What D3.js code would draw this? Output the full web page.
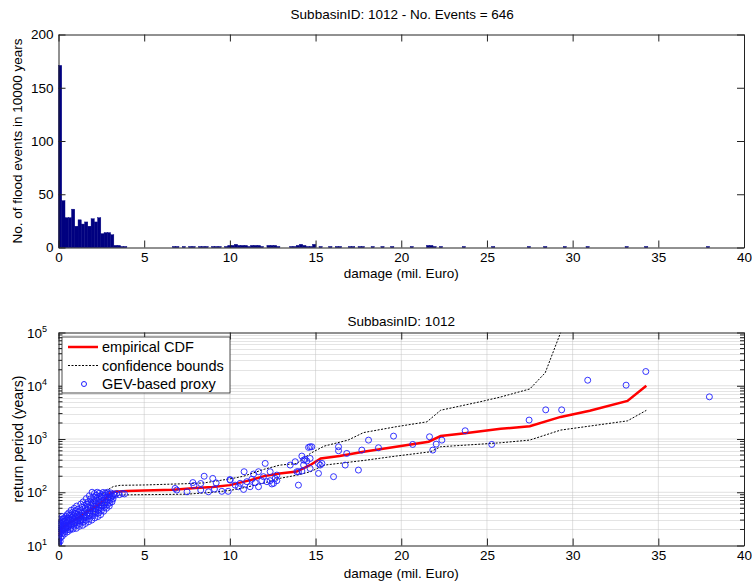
<!DOCTYPE html>
<html>
<head>
<meta charset="utf-8">
<script src="https://d3js.org/d3.v7.min.js"></script>
<style>
body { margin: 0; background: #fff; }
text { font-family: "Liberation Sans", Arial, sans-serif; }
</style>
</head>
<body>
<svg width="752" height="582"></svg>
<script>

// ---- histogram (top panel) ----
var binWidth = 0.19;
var histLeft = [0, 0.19, 0.38, 0.57, 0.76, 0.95, 1.14, 1.33, 1.52, 1.71, 1.9, 2.09, 2.28, 2.47, 2.66, 2.85, 3.04, 3.23, 3.42, 3.61, 3.8,
  6.65, 6.84, 7.22, 7.6, 7.79, 8.17, 8.36, 8.55, 8.93, 9.12, 9.31, 9.69, 9.88, 10.07, 10.26, 10.45, 10.64, 10.83,
  11.02, 11.21, 11.4, 11.59, 11.78, 12.16, 12.35, 12.54, 12.73, 13.49, 13.68, 13.87, 14.06, 14.25, 14.44, 14.63, 14.82,
  15.2, 15.77, 16.15, 16.34, 16.91, 17.1, 17.48, 17.67, 18.24, 18.81, 19.38, 20.52, 21.47, 21.66, 21.85, 22.23,
  23.56, 25.27, 27.36, 28.31, 29.45, 30.78, 33.06, 34.2, 37.81];
var histCount = [171, 44, 28, 28, 36, 20, 26, 22, 24, 20, 27, 24, 28, 13, 14, 14, 12, 2, 2, 1, 1,
  1, 1, 1, 1, 1, 1, 1, 1, 1, 1, 1, 1, 2, 2, 3, 2, 2, 2,
  1, 2, 2, 2, 1, 2, 2, 2, 1, 1, 1, 2, 3, 2, 1, 1, 3,
  1, 1, 1, 1, 1, 1, 1, 1, 1, 1, 1, 1, 2, 2, 1, 1,
  1, 1, 1, 1, 1, 1, 1, 1, 1];

// ---- return period plot (bottom panel) ----
var cdfDamage = [0, 0.2, 0.5, 1.0, 1.5, 2.0, 2.5, 2.8, 3.0, 3.3, 4.0, 5, 6.7, 8, 9, 10, 11.2, 12.0, 12.9, 13.9, 14.7, 15.3, 16.4, 17.8, 19.7, 21.6, 22.3, 23.6, 25.8, 27.5, 29.3, 31.0, 33.2, 34.3];
var cdfReturn = [15.5, 21, 25, 31, 40, 50, 64, 80, 95, 102, 105, 108, 112, 120, 126, 136, 169, 201, 225, 245, 325, 430, 480, 575, 715, 890, 1135, 1270, 1550, 1740, 2600, 3400, 5200, 10000];

var ubDamage = [0, 0.5, 1, 1.5, 2, 2.5, 2.8, 3.2, 3.6, 5, 7.5, 8.5, 10, 10.8, 12, 12.9, 13.9, 14.7, 15.5, 16.9, 17.8, 19.7, 21.5, 22.3, 24.6, 25.8, 27.5, 28.4, 29.3];
var ubReturn = [18, 30, 38, 48, 65, 88, 108, 128, 135, 137, 145, 150, 178, 200, 270, 323, 346, 537, 735, 955, 1320, 1700, 2100, 3470, 5000, 6150, 8700, 17500, 100000];

var lbDamage = [0, 0.5, 1, 1.5, 2, 2.5, 3.0, 3.6, 5, 7.5, 9, 10, 11, 12, 12.9, 13.9, 14.7, 15.5, 17.8, 19.7, 21.7, 22.3, 24.6, 25.8, 27.5, 29.3, 33.2, 34.3];
var lbReturn = [13, 20, 25, 32, 40, 52, 75, 89, 90, 92, 100, 108, 125, 150, 182, 209, 243, 323, 395, 478, 575, 716, 800, 850, 955, 1470, 2190, 3450];

// GEV-based proxy, [damage, return period]
var gevPoints = [
  [0,10],[0,10.5],[0,11],[0,11.8],[0,12.5],[0,13.5],[0.02,14.5],[0.01,16],[0.03,17.5],[0.02,19],[0.04,21],[0.05,23],[0.03,25],[0.06,27],
  [0.1,12],[0.12,14],[0.1,16.5],[0.14,18],[0.12,20],[0.15,22],[0.13,24],[0.16,26],[0.18,29],[0.08,31],
  [0.22,15],[0.25,17],[0.2,19.5],[0.27,21],[0.24,23],[0.3,25],[0.28,28],[0.26,31],[0.32,33],[0.22,35],
  [0.35,16.5],[0.38,18.5],[0.4,20],[0.42,22.5],[0.36,24],[0.45,26],[0.4,29],[0.48,31],[0.44,35],[0.5,38],
  [0.52,18],[0.55,20],[0.5,21.5],[0.58,23],[0.6,25],[0.55,27.5],[0.62,30],[0.57,33],[0.65,37],[0.6,41],
  [0.68,19.5],[0.72,21],[0.7,24],[0.75,26],[0.78,28],[0.72,31],[0.8,34],[0.76,38],[0.82,42],[0.74,46],
  [0.86,20.5],[0.9,23],[0.88,25],[0.95,27],[0.92,30],[0.98,33],[0.9,36],[0.96,40],[1.0,45],[0.92,50],
  [1.04,21],[1.08,24],[1.05,27],[1.12,29],[1.1,32],[1.15,35],[1.08,38],[1.18,42],[1.14,48],[1.06,55],
  [1.22,23],[1.25,26],[1.28,28.5],[1.3,31],[1.24,34],[1.32,37],[1.35,41],[1.28,45],[1.38,52],[1.3,60],
  [1.42,24],[1.45,28],[1.4,30],[1.48,33],[1.5,36],[1.46,40],[1.52,44],[1.55,50],[1.5,57],[1.44,66],
  [1.58,26],[1.62,30],[1.6,34],[1.65,37],[1.68,41],[1.63,46],[1.7,52],[1.66,60],[1.72,66],[1.62,76],
  [1.76,28],[1.8,32],[1.78,36],[1.84,40],[1.82,45],[1.88,50],[1.85,57],[1.9,64],[1.86,75],[1.8,86],
  [1.94,30],[1.98,36],[2.0,40],[2.04,44],[2.02,49],[2.06,55],[2.0,62],[2.08,70],[2.04,82],[2.1,95],[1.96,100],
  [2.12,33],[2.16,39],[2.14,43],[2.2,48],[2.18,54],[2.22,60],[2.15,68],[2.24,78],[2.2,88],[2.26,100],
  [2.3,35],[2.34,41],[2.32,46],[2.38,52],[2.35,58],[2.4,65],[2.36,74],[2.42,85],[2.38,96],
  [2.46,38],[2.5,45],[2.48,50],[2.55,56],[2.52,63],[2.58,70],[2.5,80],[2.56,90],[2.6,99],
  [2.64,44],[2.68,52],[2.66,58],[2.72,64],[2.7,72],[2.75,80],[2.68,88],[2.74,97],
  [2.8,50],[2.85,58],[2.82,65],[2.9,72],[2.88,82],[2.92,92],[2.86,100],
  [2.96,55],[3.0,63],[3.02,72],[3.06,80],[3.0,90],[3.05,97],
  [3.12,66],[3.18,75],[3.15,85],[3.22,93],[3.3,88],[3.4,95],[3.55,90],[3.72,95],[3.85,93],
  [6.8,118],[6.9,110],[7.5,102],[7.84,152],[7.9,134],[8.3,146],[8.5,200],[8.3,110],[8.75,102],
  [9.0,182],[9.2,150],[9.1,115],[9.53,104],[9.9,104],[10.0,173],
  [10.02,169],[10.31,136],[10.5,127],[10.6,147],[10.8,113],[10.83,243],[10.99,158],[11.18,127],[11.28,175],
  [11.38,220],[11.48,151],[11.67,127],[11.67,243],[11.86,165],[11.96,196],[12.06,348],[12.16,158],
  [12.35,165],[12.35,243],[12.45,143],[12.55,147],[12.64,182],[12.74,165],[12.74,210],
  [13.52,324],[13.81,374],[13.91,243],[14.0,136],[14.0,243],[14.2,250],[14.2,478],[14.3,402],[14.3,324],
  [14.39,414],[14.49,385],[14.59,695],[14.68,714],[14.68,432],[14.68,280],[14.78,714],
  [15.17,348],[15.17,226],[15.27,324],[15.37,348],[16.05,196],[16.34,714],[16.34,601],[16.73,324],[16.82,536],
  [17.5,261],[17.7,619],[18.09,953],[18.67,685],[19.55,1133],[20.67,791],[21.65,1101],[21.84,619],
  [22.04,801],[22.37,953],[23.73,1428],[25.28,791],[27.46,2265],[28.43,3530],[29.36,3530],
  [30.88,12700],[33.12,10260],[34.27,18500],[37.98,6190]
];

var xTicks = [0, 5, 10, 15, 20, 25, 30, 35, 40];
var histYTicks = [0, 50, 100, 150, 200];
var logYTicks = [10, 100, 1000, 10000, 100000];

var svg = d3.select("svg");
var left = 58.5, right = 744;
var top1 = 34.5, bot1 = 247.5;
var top2 = 332.5, bot2 = 545.5;
var fontSize = 13.5;

var xScale = d3.scaleLinear().domain([0, 40]).range([left, right]);
var yHist = d3.scaleLinear().domain([0, 200]).range([bot1, top1]);
var yLog = d3.scaleLog().domain([10, 100000]).range([bot2, top2]);

// ================= top panel =================
svg.append("g").selectAll("rect")
  .data(histLeft)
  .enter().append("rect")
  .attr("x", function (d) { return xScale(d); })
  .attr("width", function (d) { return xScale(d + binWidth) - xScale(d); })
  .attr("y", function (d, i) { return yHist(histCount[i]); })
  .attr("height", function (d, i) { return yHist(0) - yHist(histCount[i]); })
  .style("fill", "#000080")
  .style("stroke", "#000080")
  .style("stroke-width", 0.4);

function drawFrame(top, bot, yScale, yTickVals, logLabels) {
  var gx = svg.append("g").attr("transform", "translate(0," + bot + ")")
    .call(d3.axisBottom(xScale).tickValues(xTicks).tickSizeInner(-7).tickSizeOuter(0).tickPadding(5));
  var gxt = svg.append("g").attr("transform", "translate(0," + top + ")")
    .call(d3.axisTop(xScale).tickValues(xTicks).tickSizeInner(-7).tickSizeOuter(0).tickFormat(""));
  var gy = svg.append("g").attr("transform", "translate(" + left + ",0)")
    .call(d3.axisLeft(yScale).tickValues(yTickVals).tickSizeInner(-7).tickSizeOuter(0).tickPadding(5).tickFormat(logLabels ? "" : d3.format("d")));
  var gyr = svg.append("g").attr("transform", "translate(" + right + ",0)")
    .call(d3.axisRight(yScale).tickValues(yTickVals).tickSizeInner(-7).tickSizeOuter(0).tickFormat(""));
  [gx, gxt, gy, gyr].forEach(function (g) {
    g.selectAll("path").style("stroke", "#222").style("stroke-width", 1);
    g.selectAll("line").style("stroke", "#222");
    g.selectAll("text").style("font-size", fontSize + "px").style("fill", "#000")
      .style("font-family", "Liberation Sans, Arial, sans-serif");
  });
  return gy;
}

drawFrame(top1, bot1, yHist, histYTicks, false);

svg.append("text").attr("x", (left + right) / 2 + 1).attr("y", 19)
  .attr("text-anchor", "middle").style("font-size", "13.5px")
  .text("SubbasinID: 1012 - No. Events = 646");
svg.append("text").attr("x", (left + right) / 2).attr("y", 278)
  .attr("text-anchor", "middle").style("font-size", "13.5px")
  .text("damage (mil. Euro)");
svg.append("text").attr("transform", "translate(22," + ((top1 + bot1) / 2) + ")rotate(-90)")
  .attr("text-anchor", "middle").style("font-size", "13.5px")
  .text("No. of flood events in 10000 years");

// ================= bottom panel =================
var minorVals = [];
logYTicks.slice(0, -1).forEach(function (dec) {
  for (var k = 2; k <= 9; k++) minorVals.push(dec * k);
});

var grid = svg.append("g");
grid.selectAll(".minor").data(minorVals).enter().append("line")
  .attr("x1", left).attr("x2", right)
  .attr("y1", function (d) { return Math.round(yLog(d)) + 0.5; })
  .attr("y2", function (d) { return Math.round(yLog(d)) + 0.5; })
  .style("stroke", "#c8c8c8").style("stroke-width", 1).style("stroke-dasharray", "1,1");
grid.selectAll(".major").data(logYTicks.slice(1, -1)).enter().append("line")
  .attr("x1", left).attr("x2", right)
  .attr("y1", function (d) { return yLog(d); }).attr("y2", function (d) { return yLog(d); })
  .style("stroke", "#c0c0c0").style("stroke-width", 1).style("stroke-dasharray", "1,1");
grid.selectAll(".vgrid").data(xTicks.slice(1, -1)).enter().append("line")
  .attr("y1", top2).attr("y2", bot2)
  .attr("x1", function (d) { return xScale(d); }).attr("x2", function (d) { return xScale(d); })
  .style("stroke", "#c0c0c0").style("stroke-width", 1).style("stroke-dasharray", "1,1");

// minor ticks on both sides
svg.append("g").selectAll("line").data(minorVals).enter().append("line")
  .attr("x1", left).attr("x2", left + 4)
  .attr("y1", function (d) { return yLog(d); }).attr("y2", function (d) { return yLog(d); })
  .style("stroke", "#222");
svg.append("g").selectAll("line").data(minorVals).enter().append("line")
  .attr("x1", right - 4).attr("x2", right)
  .attr("y1", function (d) { return yLog(d); }).attr("y2", function (d) { return yLog(d); })
  .style("stroke", "#222");

svg.append("clipPath").attr("id", "clip2").append("rect")
  .attr("x", left).attr("y", top2).attr("width", right - left).attr("height", bot2 - top2);

var plot = svg.append("g").attr("clip-path", "url(#clip2)");

var line = d3.line()
  .x(function (d) { return xScale(d[0]); })
  .y(function (d) { return yLog(d[1]); });

plot.append("path").datum(cdfDamage.map(function (d, i) { return [d, cdfReturn[i]]; }))
  .attr("d", line).style("fill", "none").style("stroke", "#ff0000").style("stroke-width", 2.5);
plot.append("path").datum(ubDamage.map(function (d, i) { return [d, ubReturn[i]]; }))
  .attr("d", line).style("fill", "none").style("stroke", "#000").style("stroke-width", 1)
  .style("stroke-dasharray", "2,1.5");
plot.append("path").datum(lbDamage.map(function (d, i) { return [d, lbReturn[i]]; }))
  .attr("d", line).style("fill", "none").style("stroke", "#000").style("stroke-width", 1)
  .style("stroke-dasharray", "2,1.5");

plot.append("g").selectAll("circle").data(gevPoints).enter().append("circle")
  .attr("cx", function (d) { return xScale(d[0]); })
  .attr("cy", function (d) { return yLog(d[1]); })
  .attr("r", 3)
  .style("fill", "none").style("stroke", "#1f1fff").style("stroke-width", 0.9);

drawFrame(top2, bot2, yLog, logYTicks, true);

// 10^n labels
var lab = svg.append("g").selectAll("text").data(logYTicks).enter().append("text")
  .attr("x", 47).attr("y", function (d) { return yLog(d) + 5; })
  .attr("text-anchor", "end").style("font-size", fontSize + "px");
lab.append("tspan").text("10");
lab.append("tspan").attr("dy", -6).style("font-size", "9px")
  .text(function (d) { return Math.round(Math.log10(d)); });

svg.append("text").attr("x", (left + right) / 2).attr("y", 326)
  .attr("text-anchor", "middle").style("font-size", "13.5px")
  .text("SubbasinID: 1012");
svg.append("text").attr("x", (left + right) / 2).attr("y", 578)
  .attr("text-anchor", "middle").style("font-size", "13.5px")
  .text("damage (mil. Euro)");
svg.append("text").attr("transform", "translate(23," + ((top2 + bot2) / 2) + ")rotate(-90)")
  .attr("text-anchor", "middle").style("font-size", "14px")
  .text("return period (years)");

// legend
var legendKeys = ["empirical CDF", "confidence bounds", "GEV-based proxy"];
var lg = svg.append("g").attr("transform", "translate(62,337)");
lg.append("rect").attr("width", 168).attr("height", 56)
  .style("fill", "#fff").style("stroke", "#222").style("stroke-width", 0.8);
var rows = lg.selectAll(".row").data(legendKeys).enter().append("g")
  .attr("transform", function (d, i) { return "translate(0," + (10 + i * 18.5) + ")"; });
rows.append("text").attr("x", 40).attr("y", 5).style("font-size", "14.5px")
  .text(function (d) { return d; });
rows.filter(function (d, i) { return i === 0; }).append("line")
  .attr("x1", 6).attr("x2", 36).style("stroke", "#ff0000").style("stroke-width", 2.5);
rows.filter(function (d, i) { return i === 1; }).append("line")
  .attr("x1", 6).attr("x2", 36).style("stroke", "#000").style("stroke-width", 1).style("stroke-dasharray", "2,1.5");
rows.filter(function (d, i) { return i === 2; }).append("circle")
  .attr("cx", 22).attr("r", 2.5).style("fill", "none").style("stroke", "#1f1fff");

</script>
</body>
</html>
